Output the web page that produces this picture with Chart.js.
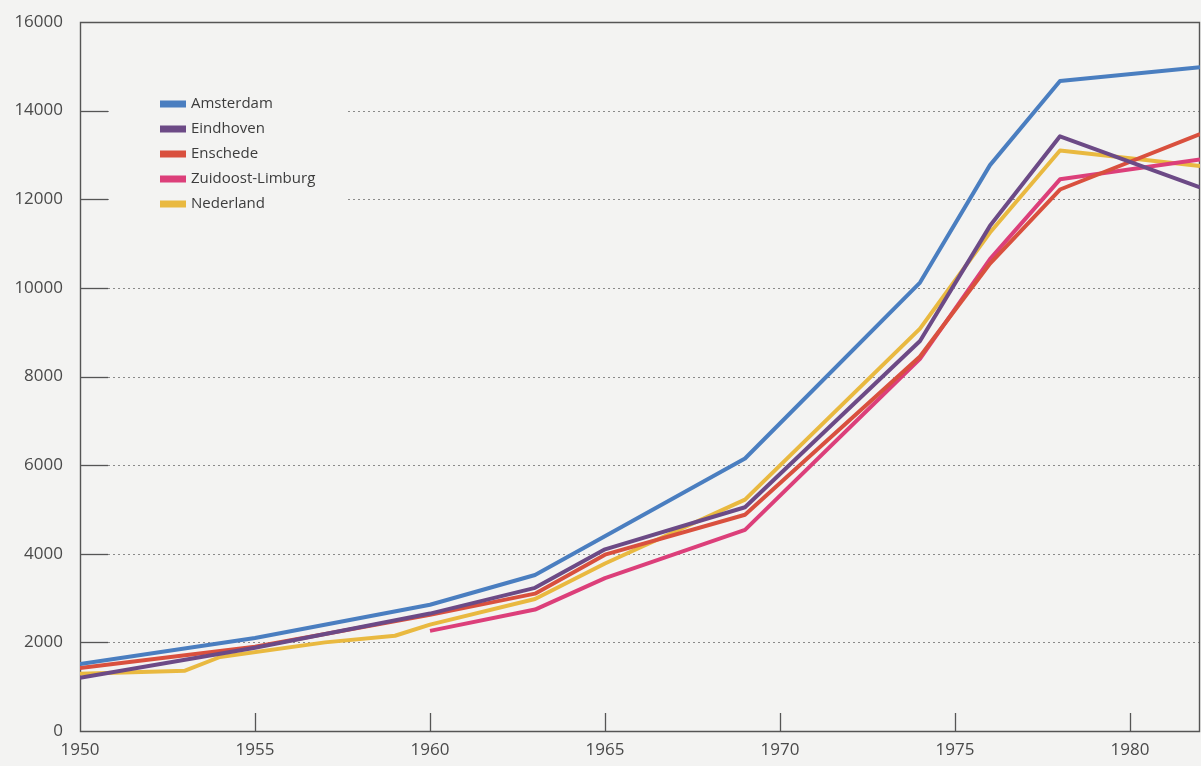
<!DOCTYPE html>
<html>
<head>
<meta charset="utf-8">
<script src="https://cdn.jsdelivr.net/npm/chart.js@4.4.1/dist/chart.umd.min.js"></script>
<style>
  html, body { margin: 0; padding: 0; background: #f3f3f2; }
  #wrap { width: 1201px; height: 766px; position: relative; }
</style>
</head>
<body>
<div id="wrap"><canvas id="c" width="1201" height="766"></canvas></div>
<script>
// ---- data ----
const seriesNames = ['Amsterdam', 'Eindhoven', 'Enschede', 'Zuidoost-Limburg', 'Nederland'];

const amsterdamYears  = [1950, 1955, 1960, 1963, 1969, 1974, 1976, 1978, 1982];
const amsterdamValues = [1510, 2100, 2850, 3520, 6150, 10120, 12770, 14670, 14980];

const eindhovenYears  = [1950, 1955, 1960, 1963, 1965, 1969, 1974, 1976, 1978, 1982];
const eindhovenValues = [1200, 1880, 2650, 3230, 4100, 5050, 8800, 11400, 13420, 12270];

const enschedeYears  = [1950, 1955, 1960, 1963, 1965, 1969, 1974, 1976, 1978, 1982];
const enschedeValues = [1420, 1900, 2620, 3100, 3980, 4880, 8450, 10550, 12220, 13470];

const limburgYears  = [1960, 1963, 1965, 1969, 1974, 1976, 1978, 1982];
const limburgValues = [2260, 2740, 3450, 4540, 8400, 10650, 12450, 12900];

const nederlandYears  = [1950, 1953, 1954, 1957, 1959, 1960, 1963, 1965, 1969, 1974, 1976, 1978, 1982];
const nederlandValues = [1290, 1360, 1670, 2000, 2150, 2400, 2980, 3780, 5220, 9080, 11250, 13100, 12750];

const xTickYears = [1950, 1955, 1960, 1965, 1970, 1975, 1980];
const yTickValues = [0, 2000, 4000, 6000, 8000, 10000, 12000, 14000, 16000];

const colors = ['#4a7ec0', '#6c4a86', '#d9503e', '#dc3f7a', '#e9b940'];

function pts(xs, ys) { return xs.map((x, i) => ({ x: x, y: ys[i] })); }

const seriesData = [
  pts(amsterdamYears, amsterdamValues),
  pts(eindhovenYears, eindhovenValues),
  pts(enschedeYears, enschedeValues),
  pts(limburgYears, limburgValues),
  pts(nederlandYears, nederlandValues)
];

const BG = '#f3f3f2';
const AXIS = '#555555';
const TEXT = '#4a4a4a';
const FONT = '"Open Sans", "Noto Sans", sans-serif';

const framePlugin = {
  id: 'frame',
  beforeDatasetsDraw(chart) {
    const { ctx, chartArea: a, scales } = chart;
    const ys = scales.y, xs = scales.x;
    ctx.save();
    yTickValues.forEach(v => {
      const py = Math.round(ys.getPixelForValue(v)) + 0.5;
      if (v === 0 || v === 16000) return;
      ctx.setLineDash([2, 3]);
      ctx.strokeStyle = '#8a8a8a';
      ctx.lineWidth = 1;
      ctx.beginPath();
      ctx.moveTo(a.left + 28, py);
      ctx.lineTo(a.right, py);
      ctx.stroke();
      ctx.setLineDash([]);
      ctx.strokeStyle = AXIS;
      ctx.lineWidth = 1.3;
      ctx.beginPath();
      ctx.moveTo(a.left, py);
      ctx.lineTo(a.left + 28, py);
      ctx.stroke();
    });
    ctx.strokeStyle = AXIS;
    ctx.lineWidth = 1.3;
    xTickYears.forEach(yr => {
      if (yr === 1950) return;
      const px = Math.round(xs.getPixelForValue(yr)) + 0.5;
      ctx.beginPath();
      ctx.moveTo(px, a.bottom);
      ctx.lineTo(px, a.bottom - 18);
      ctx.stroke();
    });
    ctx.strokeStyle = AXIS;
    ctx.lineWidth = 1.4;
    ctx.beginPath();
    ctx.moveTo(a.left + 0.5, a.top + 0.5);
    ctx.lineTo(a.right - 0.5, a.top + 0.5);
    ctx.lineTo(a.right - 0.5, a.bottom + 0.5);
    ctx.lineTo(a.left + 0.5, a.bottom + 0.5);
    ctx.closePath();
    ctx.stroke();
    ctx.restore();
  }
};

const legendPlugin = {
  id: 'innerLegend',
  afterDatasetsDraw(chart) {
    const { ctx, chartArea: a } = chart;
    ctx.save();
    const x0 = a.left + 80, y0 = a.top + 82, rowH = 25;
    ctx.fillStyle = BG;
    ctx.fillRect(a.left + 29, y0 - 14, 236, rowH * 5 + 4);
    ctx.font = '15px ' + FONT;
    ctx.textBaseline = 'middle';
    seriesNames.forEach((name, i) => {
      const cy = y0 + i * rowH;
      ctx.fillStyle = colors[i];
      ctx.fillRect(x0, cy - 3.5, 26, 7);
      ctx.fillStyle = '#3c3c3c';
      ctx.fillText(name, x0 + 31, cy);
    });
    ctx.restore();
  }
};

new Chart(document.getElementById('c'), {
  type: 'line',
  data: {
    datasets: seriesNames.map((n, i) => ({
      label: n,
      data: seriesData[i],
      borderColor: colors[i],
      backgroundColor: colors[i],
      borderWidth: 4,
      pointRadius: 0,
      tension: 0,
      fill: false,
      borderJoinStyle: 'round',
      borderCapStyle: 'butt'
    }))
  },
  options: {
    responsive: false,
    animation: false,
    layout: { padding: { top: 22, right: 1, left: 0, bottom: 0 } },
    plugins: { legend: { display: false }, tooltip: { enabled: false } },
    scales: {
      x: {
        type: 'linear',
        min: 1950,
        max: 1982,
        afterBuildTicks: (s) => { s.ticks = xTickYears.map(v => ({ value: v })); },
        afterFit: (s) => { s.height = 35; s.paddingLeft = 0; s.paddingRight = 0; },
        ticks: { color: TEXT, font: { family: FONT, size: 17 }, padding: 9, callback: v => String(v) },
        grid: { display: false, drawTicks: false },
        border: { display: false }
      },
      y: {
        min: 0,
        max: 16000,
        afterBuildTicks: (s) => { s.ticks = yTickValues.map(v => ({ value: v })); },
        afterFit: (s) => { s.width = 80; s.paddingTop = 0; s.paddingBottom = 0; },
        ticks: { color: TEXT, font: { family: FONT, size: 17 }, padding: 17, callback: v => String(v) },
        grid: { display: false, drawTicks: false },
        border: { display: false }
      }
    }
  },
  plugins: [framePlugin, legendPlugin]
});
</script>
</body>
</html>
